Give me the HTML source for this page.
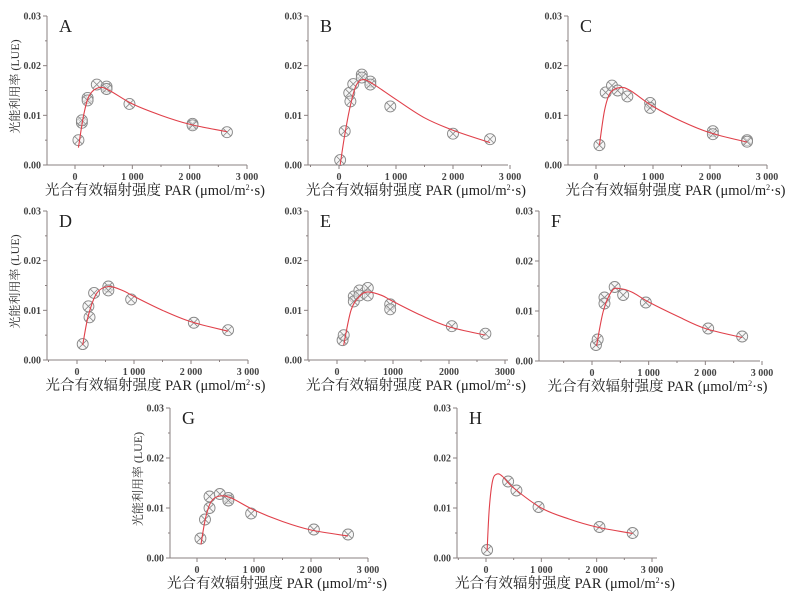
<!DOCTYPE html>
<html><head><meta charset="utf-8"><style>
body{margin:0;background:#fff;width:800px;height:597px;overflow:hidden}
text{font-family:"Liberation Serif","Noto Serif CJK SC",serif}
</style></head><body>
<svg id="s" width="800" height="597" viewBox="0 0 800 597" xmlns="http://www.w3.org/2000/svg"></svg>
<script>
const P=[
{n:"A",ax:47,top:16,bot:165,x0:75,x3:247,end:247,yt:1,
c:[[60,3.5],[150,10],[250,14],[420,15.6],[600,15],[1000,12.3],[1500,10],[2000,8.2],[2650,6.7]],
p:[[60,5],[120,8.5],[120,9],[220,13.5],[220,13],[380,16.2],[550,15.8],[550,15.3],[950,12.3],[2050,8.3],[2050,8],[2650,6.6]]},
{n:"B",ax:308,top:16,bot:165,x0:339,x3:510,end:508,
c:[[20,0],[100,6],[200,12],[300,16],[420,17.2],[600,16.3],[1000,13.2],[1500,9.5],[2000,7],[2650,4.5]],
p:[[20,1],[100,6.8],[180,14.5],[200,12.8],[250,16.3],[400,18.2],[400,17.6],[550,16.8],[550,16.2],[900,11.8],[2000,6.3],[2650,5.2]]},
{n:"C",ax:568,top:16,bot:165,x0:596,x3:767,end:767,
c:[[60,4],[150,11],[250,14.5],[420,15.6],[600,15],[1000,11.8],[1500,8.8],[2000,6.5],[2650,4.6]],
p:[[60,4],[170,14.6],[280,16],[380,15],[550,13.8],[950,12.5],[950,11.5],[2050,6.8],[2050,6.2],[2650,5],[2650,4.7]]},
{n:"D",ax:47,top:211,bot:360,x0:77,x3:248,end:248,yt:1,
c:[[100,3],[200,9],[350,13.5],[550,14.8],[800,14],[1000,12.8],[1500,10],[2000,7.7],[2650,5.8]],
p:[[100,3.2],[200,10.8],[220,8.6],[300,13.5],[550,14.8],[550,14],[950,12.2],[2050,7.5],[2650,6]]},
{n:"E",ax:308,top:211,bot:360,x0:337,x3:505,end:508,nosp:1,
c:[[120,3],[250,10],[400,12.8],[550,13.7],[800,13],[1000,11.8],[1500,9],[2000,6.7],[2650,5]],
p:[[100,4],[120,5],[300,12.8],[300,11.8],[400,14],[400,13],[550,14.5],[550,13],[950,11.2],[950,10.2],[2050,6.8],[2650,5.3]]},
{n:"F",ax:539,top:211,bot:361,x0:592,x3:762,end:760,
c:[[80,3],[200,10],[350,14],[480,14.5],[700,13.8],[1000,11.8],[1500,9],[2000,6.5],[2650,4.7]],
p:[[70,3.2],[100,4.3],[220,12.7],[220,11.5],[400,14.8],[550,13.2],[950,11.7],[2050,6.5],[2650,4.9]]},
{n:"G",ax:170,top:408,bot:558,x0:197,x3:368,end:368,yt:1,
c:[[70,2.7],[150,8],[250,11.3],[400,12.4],[600,12],[1000,9.6],[1500,7.3],[2000,5.6],[2650,4.4]],
p:[[60,3.9],[140,7.7],[220,12.3],[220,10],[400,12.8],[550,12],[550,11.5],[950,8.9],[2050,5.7],[2650,4.7]]},
{n:"H",ax:457,top:408,bot:558,x0:486,x3:652,end:657,
c:[[20,1.5],[60,10],[120,15.5],[200,16.8],[300,16.3],[500,14],[1000,10],[1500,7.8],[2000,6.2],[2650,4.9]],
p:[[20,1.6],[400,15.3],[550,13.5],[950,10.2],[2050,6.2],[2650,5]]}
];
let h="";const ac="#8a8080";
for(const q of P){
 const X=v=>q.x0+(q.x3-q.x0)*v/3000, Y=v=>q.bot-(q.bot-q.top)*v/30;
 h+=`<line x1="${q.ax}" y1="${q.top}" x2="${q.ax}" y2="${q.bot}" stroke="${ac}" stroke-width="1"/>`;
 h+=`<line x1="${q.ax}" y1="${q.bot}" x2="${q.end}" y2="${q.bot}" stroke="${ac}" stroke-width="1"/>`;
 for(let v=0;v<=30;v+=5){const y=Y(v);h+=`<line x1="${q.ax-(v%10?2:4)}" y1="${y}" x2="${q.ax}" y2="${y}" stroke="${ac}"/>`;
  if(v%10==0)h+=`<text x="${q.ax-6}" y="${y+3.5}" font-size="10" font-weight="bold" fill="#444" text-anchor="end">${(v/1000).toFixed(2)}</text>`;}
 for(let v=-500;v<=3000;v+=500){const x=X(v);if(x<q.ax+1)continue;h+=`<line x1="${x}" y1="${q.bot}" x2="${x}" y2="${q.bot+(v%1000?2:4)}" stroke="${ac}"/>`;
  if(v%1000==0&&v>=0){let t=v==0?"0":(q.nosp?String(v):(v/1000)+" 000");h+=`<text x="${x}" y="${q.bot+15}" font-size="10" font-weight="bold" fill="#444" text-anchor="middle">${t}</text>`;}}
 h+=`<text x="${q.ax+12}" y="${q.top+16}" font-size="18" fill="#222">${q.n}</text>`;
 const mid=(q.ax+q.end)/2+8;
 h+=`<text x="${mid}" y="${q.bot+30}" font-size="14.5" fill="#222" text-anchor="middle">光合有效辐射强度  PAR (μmol/m<tspan font-size="8" dy="-5">2</tspan><tspan dy="5">·s)</tspan></text>`;
 if(q.yt){const cy=(q.top+q.bot)/2-4;h+=`<text transform="translate(${q.ax-28},${cy}) rotate(-90)" font-size="12" fill="#333" text-anchor="middle">光能利用率 (LUE)</text>`;}
 for(const [a,b] of q.p){const x=X(a),y=Y(b),r=5.5;
  h+=`<circle cx="${x}" cy="${y}" r="${r}" fill="#f2f2f2" fill-opacity="0.6" stroke="#888" stroke-width="0.9"/><path d="M${x-3.8} ${y-3.8}L${x+3.8} ${y+3.8}M${x-3.8} ${y+3.8}L${x+3.8} ${y-3.8}" stroke="#888" stroke-width="0.8"/>`;}
 const pts=q.c.map(([a,b])=>[X(a),Y(b)]);let d=`M${pts[0][0]} ${pts[0][1]}`;
 for(let i=0;i<pts.length-1;i++){const p0=pts[i-1]||pts[i],p1=pts[i],p2=pts[i+1],p3=pts[i+2]||p2;
  d+=`C${p1[0]+(p2[0]-p0[0])/6} ${p1[1]+(p2[1]-p0[1])/6} ${p2[0]-(p3[0]-p1[0])/6} ${p2[1]-(p3[1]-p1[1])/6} ${p2[0]} ${p2[1]}`;}
 h+=`<path d="${d}" fill="none" stroke="#e0404a" stroke-width="1.1"/>`;
}
document.getElementById("s").innerHTML=h;
</script>
</body></html>
